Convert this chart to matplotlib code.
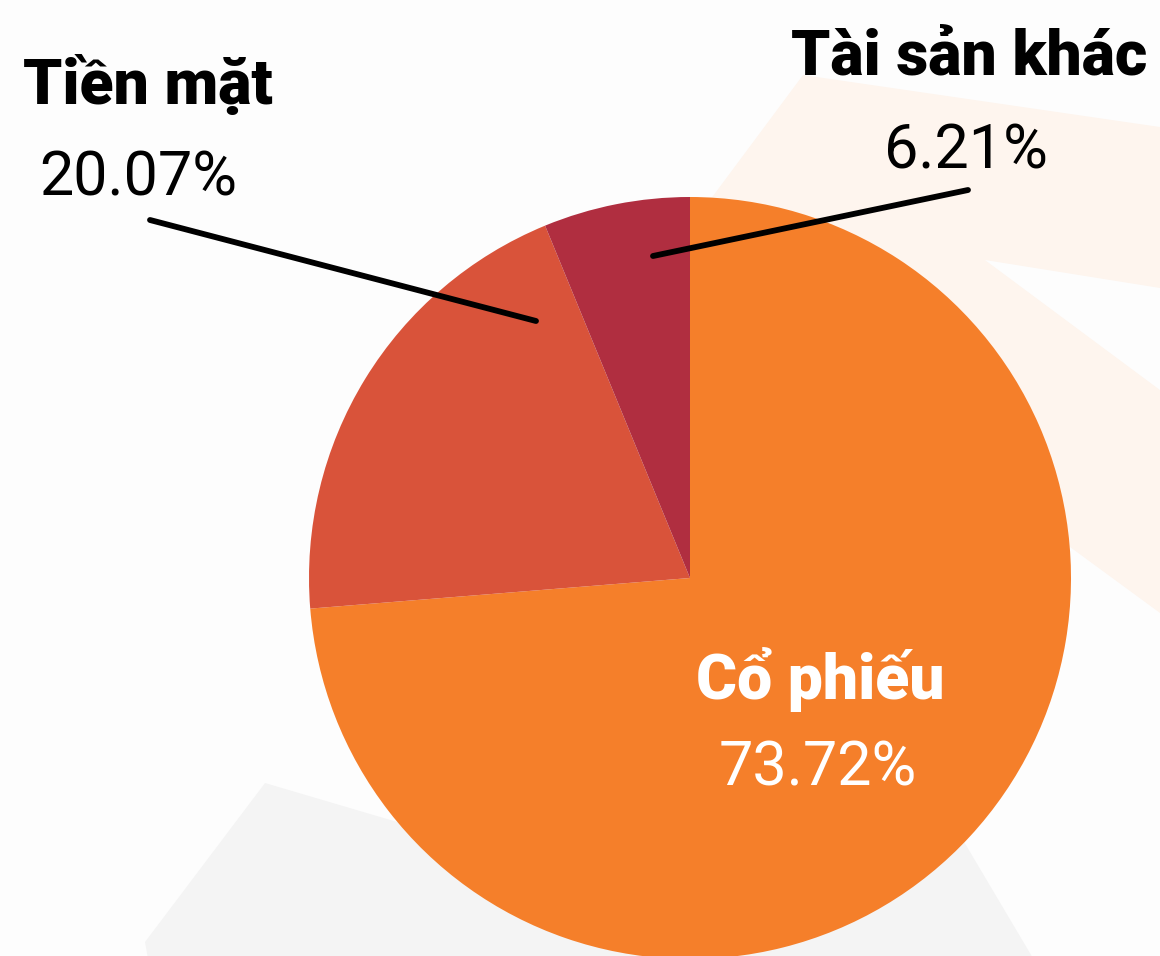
import matplotlib.pyplot as plt
from matplotlib.patches import Polygon

# Portfolio allocation
labels = ['Cổ phiếu', 'Tiền mặt', 'Tài sản khác']
values = [73.72, 20.07, 6.21]
colors = ['#F57F2A', '#D9533A', '#B02E40']

W, H = 1160, 956


def py(y):
    """Flip a pixel y (top-down) into data y (bottom-up)."""
    return H - y


plt.rcParams['font.family'] = ['Roboto', 'Noto Sans', 'DejaVu Sans']

fig = plt.figure(figsize=(W / 100, H / 100), dpi=100)
fig.patch.set_facecolor('#FDFDFD')
ax = fig.add_axes([0, 0, 1, 1])

# faint decorative background shapes
beam = [(803, 75), (1160, 127), (1160, 288), (985, 260), (1160, 390),
        (1160, 613), (1070, 547), (800, 420), (690, 300), (710, 200)]
ax.add_patch(Polygon([(x, py(y)) for x, y in beam], closed=True,
                     facecolor='#FEF5EE', edgecolor='none', zorder=0))
grey = [(265, 783), (560, 870), (880, 700), (1040, 970), (150, 970),
        (145, 942)]
ax.add_patch(Polygon([(x, py(y)) for x, y in grey], closed=True,
                     facecolor='#F4F4F4', edgecolor='none', zorder=0))

# pie
cx, cy, r = 690, py(578), 381
wedges, _ = ax.pie(values, colors=colors, startangle=90, counterclock=False,
                   center=(cx, cy), radius=r, frame=False,
                   wedgeprops=dict(linewidth=0))
for w in wedges:
    w.set_zorder(2)

ax.set_xlim(0, W)
ax.set_ylim(0, H)
ax.set_aspect('equal')
ax.axis('off')

# leader lines
ax.plot([150, 536], [py(220), py(321)], color='black', lw=4.2,
        solid_capstyle='round', zorder=3)
ax.plot([968, 653], [py(190), py(256)], color='black', lw=4.2,
        solid_capstyle='round', zorder=3)

# labels
name_kw = dict(fontsize=45, fontweight='heavy', ha='center', va='center',
               zorder=4)
num_kw = dict(fontsize=44, fontweight='normal', ha='center', va='center',
              zorder=4)

ax.text(148, py(86), labels[1], color='black', **name_kw)
ax.text(138, py(178), f'{values[1]:.2f}%', color='black', **num_kw)

ax.text(969, py(57), labels[2], color='black', **name_kw)
ax.text(966, py(151), f'{values[2]:.2f}%', color='black', **num_kw)

ax.text(820, py(679), labels[0], color='white', **name_kw)
ax.text(818, py(768), f'{values[0]:.2f}%', color='white', **num_kw)

fig.savefig('out.png', dpi=100, facecolor=fig.get_facecolor())
